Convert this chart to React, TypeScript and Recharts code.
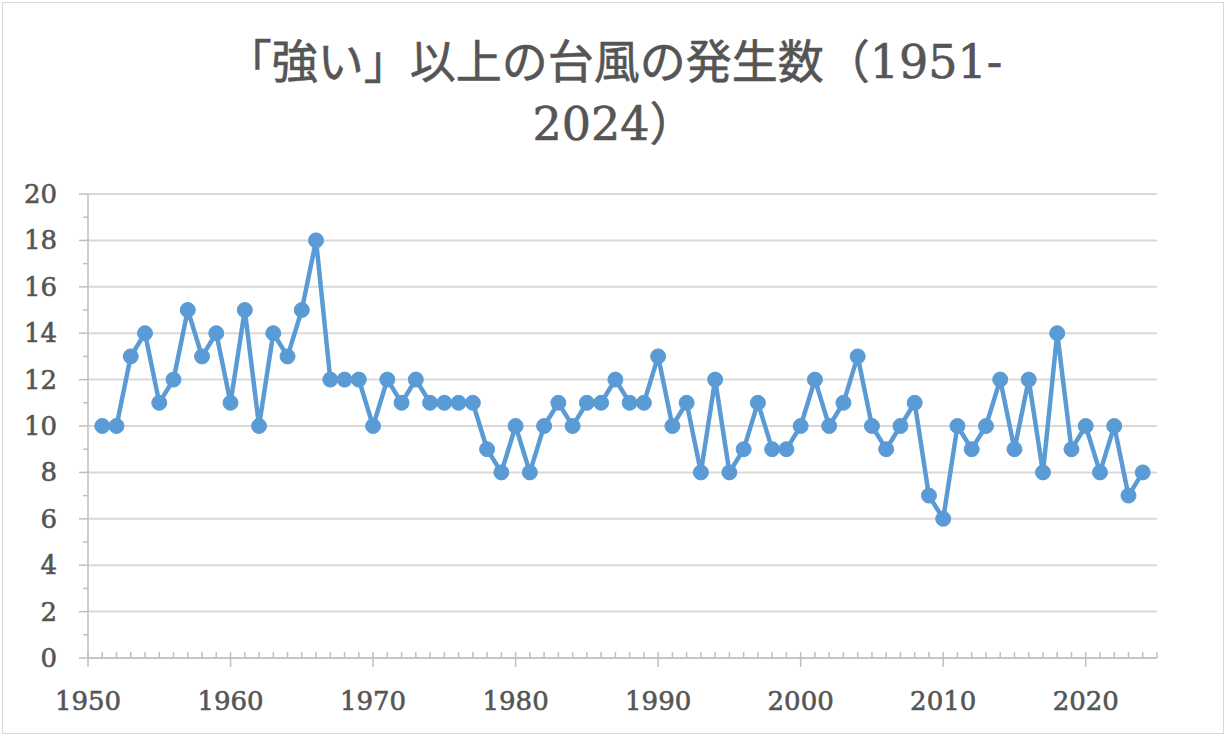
import { CartesianGrid, Line, LineChart, XAxis, YAxis } from "recharts";

// 年ごとの「強い」以上の台風の発生数
const years = [
  1951, 1952, 1953, 1954, 1955, 1956, 1957, 1958, 1959, 1960,
  1961, 1962, 1963, 1964, 1965, 1966, 1967, 1968, 1969, 1970,
  1971, 1972, 1973, 1974, 1975, 1976, 1977, 1978, 1979, 1980,
  1981, 1982, 1983, 1984, 1985, 1986, 1987, 1988, 1989, 1990,
  1991, 1992, 1993, 1994, 1995, 1996, 1997, 1998, 1999, 2000,
  2001, 2002, 2003, 2004, 2005, 2006, 2007, 2008, 2009, 2010,
  2011, 2012, 2013, 2014, 2015, 2016, 2017, 2018, 2019, 2020,
  2021, 2022, 2023, 2024,
];
const counts = [
  10, 10, 13, 14, 11, 12, 15, 13, 14, 11,
  15, 10, 14, 13, 15, 18, 12, 12, 12, 10,
  12, 11, 12, 11, 11, 11, 11, 9, 8, 10,
  8, 10, 11, 10, 11, 11, 12, 11, 11, 13,
  10, 11, 8, 12, 8, 9, 11, 9, 9, 10,
  12, 10, 11, 13, 10, 9, 10, 11, 7, 6,
  10, 9, 10, 12, 9, 12, 8, 14, 9, 10,
  8, 10, 7, 8,
];

const xTicks = [
  1950, 1951, 1952, 1953, 1954, 1955, 1956, 1957, 1958, 1959,
  1960, 1961, 1962, 1963, 1964, 1965, 1966, 1967, 1968, 1969,
  1970, 1971, 1972, 1973, 1974, 1975, 1976, 1977, 1978, 1979,
  1980, 1981, 1982, 1983, 1984, 1985, 1986, 1987, 1988, 1989,
  1990, 1991, 1992, 1993, 1994, 1995, 1996, 1997, 1998, 1999,
  2000, 2001, 2002, 2003, 2004, 2005, 2006, 2007, 2008, 2009,
  2010, 2011, 2012, 2013, 2014, 2015, 2016, 2017, 2018, 2019,
  2020, 2021, 2022, 2023, 2024, 2025,
];
const yTicks = [0, 1, 2, 3, 4, 5, 6, 7, 8, 9, 10, 11, 12, 13, 14, 15, 16, 17, 18, 19, 20];
const yGrid = [0, 2, 4, 6, 8, 10, 12, 14, 16, 18, 20];

const titleLine1 = "「強い」以上の台風の発生数（1951-";
const titleLine2 = "2024）";

const data = years.map((y, i) => ({ year: y, count: counts[i] }));

const TXT = "#555555";
const AXIS = "#bfbfbf";
const BLUE = "#5b9bd5";
const FONT = "'DejaVu Serif', 'Noto Sans CJK JP', serif";

function XTick(props: any) {
  const { x, y, payload } = props;
  const v = payload.value as number;
  if (v % 10 === 0 && v < 2025) {
    return (
      <g>
        <line x1={x} x2={x} y1={y - 6} y2={y + 9} stroke={AXIS} strokeWidth={1.5} />
        <text
          x={x}
          y={y + 52}
          textAnchor="middle"
          fill={TXT}
          stroke={TXT}
          strokeWidth={0.6}
          fontSize={26}
          fontFamily={FONT}
        >
          {v}
        </text>
      </g>
    );
  }
  return <line x1={x} x2={x} y1={y - 6} y2={y} stroke={AXIS} strokeWidth={1.5} />;
}

function YTick(props: any) {
  const { x, y, payload } = props;
  const v = payload.value as number;
  if (v % 2 === 0) {
    return (
      <g>
        <line x1={x - 9} x2={x} y1={y} y2={y} stroke={AXIS} strokeWidth={1.5} />
        <text
          x={x - 31}
          y={y + 9}
          textAnchor="end"
          fill={TXT}
          stroke={TXT}
          strokeWidth={0.6}
          fontSize={26}
          fontFamily={FONT}
        >
          {v}
        </text>
      </g>
    );
  }
  return <line x1={x - 5} x2={x} y1={y} y2={y} stroke={AXIS} strokeWidth={1.5} />;
}

export default function App() {
  return (
    <div style={{ position: "absolute", left: 0, top: 0, width: 1228, height: 738, background: "#fff" }}>
      <div
        style={{
          position: "absolute",
          left: 2,
          top: 2,
          width: 1222,
          height: 732,
          border: "1px solid #d9d9d9",
          boxSizing: "border-box",
        }}
      />
      <div
        style={{
          position: "absolute",
          left: 0,
          top: 31,
          width: 1228,
          textAlign: "center",
          color: TXT,
          fontFamily: FONT,
          fontSize: 46,
          lineHeight: "62px",
          WebkitTextStroke: "0.6px #555555",
        }}
      >
        <div>{titleLine1}</div>
        <div>{titleLine2}</div>
      </div>
      <div style={{ position: "absolute", left: 0, top: 0 }}>
        <LineChart
          width={1228}
          height={738}
          data={data}
          margin={{ top: 194, right: 71, bottom: 30, left: 0 }}
        >
          <CartesianGrid
            vertical={false}
            horizontalValues={yGrid}
            stroke="#d9d9d9"
            strokeWidth={2}
          />
          <XAxis
            dataKey="year"
            type="number"
            domain={[1950, 2025]}
            ticks={xTicks}
            interval={0}
            allowDataOverflow
            height={50}
            stroke={AXIS}
            strokeWidth={1.5}
            tickLine={false}
            tickSize={0}
            tickMargin={0}
            tick={<XTick />}
          />
          <YAxis
            type="number"
            domain={[0, 20]}
            ticks={yTicks}
            interval={0}
            width={88}
            stroke={AXIS}
            strokeWidth={1.5}
            tickLine={false}
            tickSize={0}
            tickMargin={0}
            tick={<YTick />}
          />
          <Line
            dataKey="count"
            stroke={BLUE}
            strokeWidth={4.5}
            dot={{ r: 7.5, fill: BLUE, stroke: BLUE, strokeWidth: 1 }}
            activeDot={false}
            isAnimationActive={false}
          />
        </LineChart>
      </div>
    </div>
  );
}
